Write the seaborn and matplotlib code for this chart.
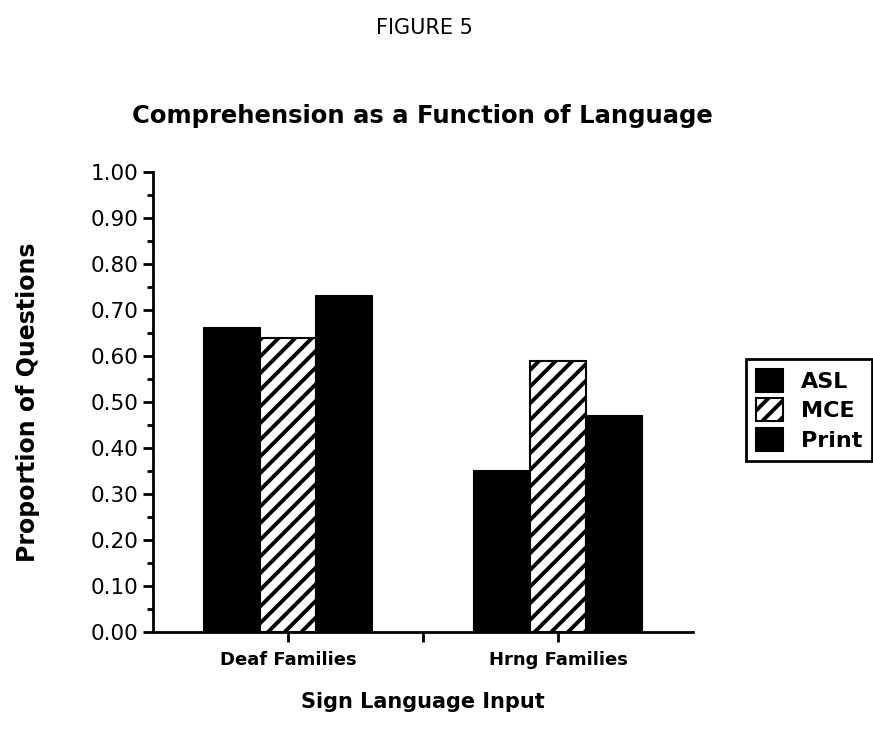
import numpy as np
import pandas as pd
import matplotlib
matplotlib.use('Agg')
import matplotlib.pyplot as plt
import seaborn as sns
from matplotlib.ticker import MultipleLocator, FormatStrFormatter

# values
groups = ['Deaf Families', 'Hrng Families']
languages = ['ASL', 'MCE', 'Print']
asl_vals = [0.66, 0.35]
mce_vals = [0.64, 0.59]
print_vals = [0.73, 0.47]

df = pd.DataFrame({
    'group': groups * 3,
    'language': [l for l in languages for _ in groups],
    'proportion': asl_vals + mce_vals + print_vals,
})

sns.set_style('ticks')
plt.rcParams['font.family'] = ['DejaVu Sans']
plt.rcParams['hatch.linewidth'] = 2.8
plt.rcParams['hatch.color'] = 'black'
for k in ['text.color', 'axes.labelcolor', 'xtick.color', 'ytick.color', 'axes.edgecolor']:
    plt.rcParams[k] = 'black'

fig = plt.figure(figsize=(8.73, 7.37), dpi=100)
ax = fig.add_axes([0.175, 0.1425, 0.619, 0.624])

sns.barplot(data=df, x='group', y='proportion', hue='language',
            hue_order=languages, order=groups,
            palette=['black', 'white', 'black'], edgecolor='black',
            linewidth=1.5, width=0.62, saturation=1, legend=False, ax=ax)

for p in ax.containers[1].patches:
    p.set_hatch('//')

ax.set_ylim(0, 1.0)
ax.set_xlim(-0.5, 1.5)
ax.yaxis.set_major_locator(MultipleLocator(0.1))
ax.yaxis.set_minor_locator(MultipleLocator(0.05))
ax.yaxis.set_major_formatter(FormatStrFormatter('%.2f'))
ax.set_xticks([0, 0.5, 1])
ax.set_xticklabels(['Deaf Families', '', 'Hrng Families'],
                   fontsize=13, fontweight='bold')
ax.tick_params(axis='y', which='major', labelsize=15.5, length=7, width=2)
ax.tick_params(axis='y', which='minor', length=4, width=2)
ax.tick_params(axis='x', length=7, width=2, pad=7)

sns.despine(ax=ax)
for s in ['left', 'bottom']:
    ax.spines[s].set_linewidth(2)

ax.set_xlabel('Sign Language Input', fontsize=15, fontweight='bold', labelpad=16)
ax.set_ylabel('Proportion of Questions', fontsize=17, fontweight='bold', labelpad=36)

fig.text(0.484, 0.843, 'Comprehension as a Function of Language',
         ha='center', va='center', fontsize=17.5, fontweight='bold')
fig.text(0.486, 0.962, 'FIGURE 5', ha='center', va='center', fontsize=15)

leg = fig.legend(ax.containers, languages, loc='center left',
                 bbox_to_anchor=(0.842, 0.444), frameon=True, fancybox=False,
                 framealpha=1, fontsize=16, handlelength=1.2,
                 handleheight=1.2, labelspacing=0.3, borderpad=0.45)
leg.get_frame().set_edgecolor('black')
leg.get_frame().set_linewidth(2)
for t in leg.get_texts():
    t.set_fontweight('bold')

fig.savefig('out.png', dpi=100)
